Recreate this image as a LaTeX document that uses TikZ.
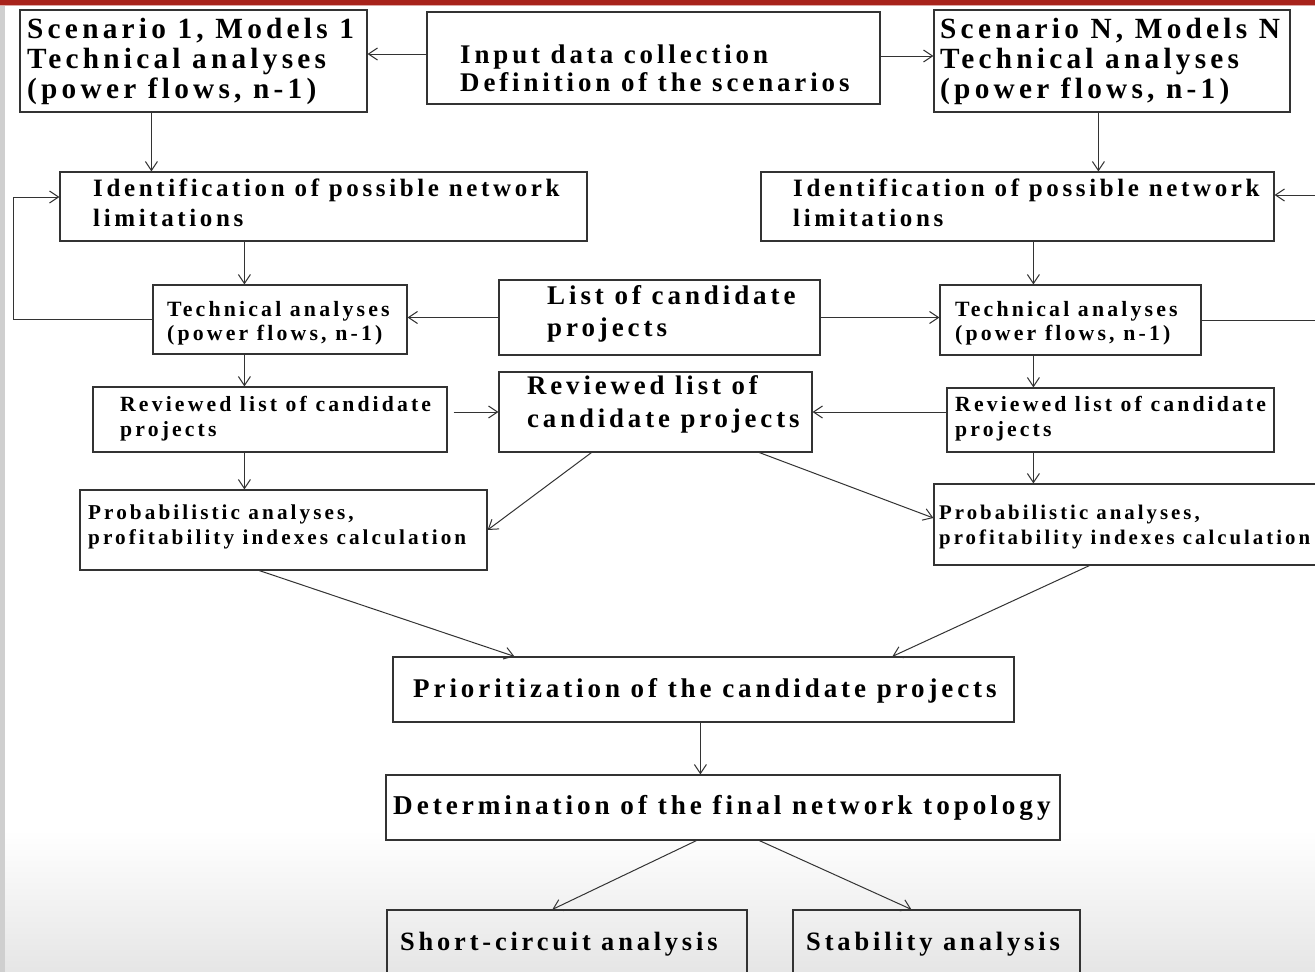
\documentclass[tikz,border=0pt]{standalone}
\usepackage{fontspec}
\newfontfamily\boxfont[LetterSpace=14.5]{Liberation Serif}
\usetikzlibrary{arrows.meta,fit}
\definecolor{barred}{HTML}{A8231B}
\definecolor{edgegray}{HTML}{333333}
\definecolor{sidegray}{HTML}{CFCFCF}

\begin{document}
\begin{tikzpicture}
[x=1pt,y=-1pt,
  stagebox/.style={draw=edgegray,line width=1.2pt,inner sep=0pt},%
  flow/.style={draw=edgegray,line width=1pt,-{Straight Barb[length=9pt,width=12pt]}},%
  loopline/.style={draw=edgegray,line width=1pt},%
  labelBig/.style={anchor=west,inner sep=0pt,align=left,font=\boxfont\bfseries\fontsize{29.3}{30}\selectfont},%
  labelId/.style={anchor=west,inner sep=0pt,align=left,font=\boxfont\bfseries\fontsize{25}{30}\selectfont},%
  labelMid/.style={anchor=west,inner sep=0pt,align=left,font=\boxfont\bfseries\fontsize{27}{32}\selectfont},%
  labelSmall/.style={anchor=west,inner sep=0pt,align=left,font=\boxfont\bfseries\fontsize{21.7}{25}\selectfont}]
%% page background
\fill[white] (0,0) rectangle (1315,972);
\shade[top color=white,bottom color=black!10] (0,830) rectangle (1315,972);
\fill[sidegray] (0,0) rectangle (5,972);
\fill[barred] (0,0) rectangle (1315,5);
\fill[barred!40] (0,5) rectangle (1315,6);
\useasboundingbox (0,0) rectangle (1315,972);
%% boxes
\foreach \boxname/\xa/\ya/\xb/\yb in {s1/20/10/367/112, input/427/12/880/104,
  sn/934/10/1290/112, id1/60/172/587/241, idn/761/172/1274/241,
  ta1/153/285/407/354, list/499/280/820/355, tan/940/285/1201/355,
  rev1/93/387/447/452, revmid/499/372/812/452, revn/947/388/1274/452,
  prob1/80/490/487/570, probn/934/484/1340/565, prio/393/657/1014/722,
  det/386/775/1060/840, sc/387/910/747/990, stab/793/910/1080/990}
{
  \node (\boxname) [stagebox,fit={(\xa,\ya) (\xb,\yb)}] {};
}
%% texts
\node (s1t) at (27,61) [labelBig] {Scenario 1, Models 1\\Technical analyses\\(power flows, n-1)};
\node (inputt) at (460,68) [labelMid,font=\boxfont\bfseries\fontsize{26.9}{28}\selectfont] {Input data collection\\Definition of the scenarios};
\node (snt) at (940,61) [labelBig] {Scenario N, Models N\\Technical analyses\\(power flows, n-1)};
\node (id1t) at (93,203) [labelId] {Identification of possible network\\limitations};
\node (idnt) at (793,203) [labelId] {Identification of possible network\\limitations};
\node (ta1t) at (167,323) [labelSmall,font=\boxfont\bfseries\fontsize{21.8}{24}\selectfont] {Technical analyses\\(power flows, n-1)};
\node (listt) at (547,314) [labelMid] {List of candidate\\projects};
\node (tant) at (955,323) [labelSmall,font=\boxfont\bfseries\fontsize{21.8}{24}\selectfont] {Technical analyses\\(power flows, n-1)};
\node (rev1t) at (120,419) [labelSmall] {Reviewed list of candidate\\projects};
\node (revmidt) at (527,404.5) [labelMid,font=\boxfont\bfseries\fontsize{26.8}{33}\selectfont] {Reviewed list of\\candidate projects};
\node (revnt) at (955,419) [labelSmall] {Reviewed list of candidate\\projects};
\node (prob1t) at (88,527) [labelSmall,font=\boxfont\bfseries\fontsize{21.2}{25}\selectfont] {Probabilistic analyses,\\profitability indexes calculation};
\node (probnt) at (939,527) [labelSmall,font=\boxfont\bfseries\fontsize{20.8}{25}\selectfont] {Probabilistic analyses,\\profitability indexes calculation};
\node (priot) at (413,691) [labelMid] {Prioritization of the candidate projects};
\node (dett) at (393,808) [labelMid,font=\boxfont\bfseries\fontsize{27.2}{32}\selectfont] {Determination of the final network topology};
\node (sct) at (400,944) [labelMid,font=\boxfont\bfseries\fontsize{26.4}{32}\selectfont] {Short-circuit analysis};
\node (stabt) at (806,944) [labelMid,font=\boxfont\bfseries\fontsize{26.5}{32}\selectfont] {Stability analysis};
%% connectors
\coordinate (loopl) at (13,0);
\coordinate (loopr) at (1322,0);
\draw[flow] ([yshift=4]input.west) -- ([yshift=7]s1.east);
\draw[flow] ([yshift=2]input.east) -- ([yshift=5]sn.west);
\draw[flow] ([xshift=132]s1.south west) -- ([xshift=92]id1.north west);
\draw[flow] ([xshift=165]sn.south west) -- ([xshift=338]idn.north west);
\draw[flow] ([xshift=185]id1.south west) -- ([xshift=92]ta1.north west);
\draw[flow] ([xshift=273]idn.south west) -- ([xshift=94]tan.north west);
\draw[loopline] (ta1.west) -- (ta1.west -| loopl) -- ([yshift=9.5]id1.west -| loopl);
\draw[flow] ([yshift=9.5]id1.west -| loopl) -- ([yshift=9.5]id1.west);
\draw[loopline] (tan.east) -- (tan.east -| loopr) -- ([yshift=11.5]idn.east -| loopr);
\draw[flow] ([yshift=11.5]idn.east -| loopr) -- ([yshift=11.5]idn.east);
\draw[flow] (list.west) -- (list.west -| ta1.east);
\draw[flow] (list.east) -- (list.east -| tan.west);
\draw[flow] ([xshift=92]ta1.south west) -- ([xshift=152]rev1.north west);
\draw[flow] ([xshift=94]tan.south west) -- ([xshift=87]revn.north west);
\draw[flow] ([xshift=6,yshift=7.5]rev1.east) -- (revmid.west);
\draw[flow] ([yshift=8]revn.west) -- (revmid.east);
\draw[flow] ([xshift=152]rev1.south west) -- ([xshift=165]prob1.north west);
\draw[flow] ([xshift=87]revn.south west) -- ([xshift=100]probn.north west);
\draw[flow] ([xshift=93]revmid.south west) -- (prob1.east);
\draw[flow] ([xshift=261]revmid.south west) -- ([yshift=6.5]probn.west);
\draw[flow] ([xshift=180]prob1.south west) -- ([xshift=122]prio.north west);
\draw[flow] ([xshift=156]probn.south west) -- ([xshift=500]prio.north west);
\draw[flow] ([xshift=308]prio.south west) -- ([xshift=315]det.north west);
\draw[flow] ([xshift=311]det.south west) -- ([xshift=166]sc.north west);
\draw[flow] ([xshift=374]det.south west) -- ([xshift=119]stab.north west);
\end{tikzpicture}
\end{document}
